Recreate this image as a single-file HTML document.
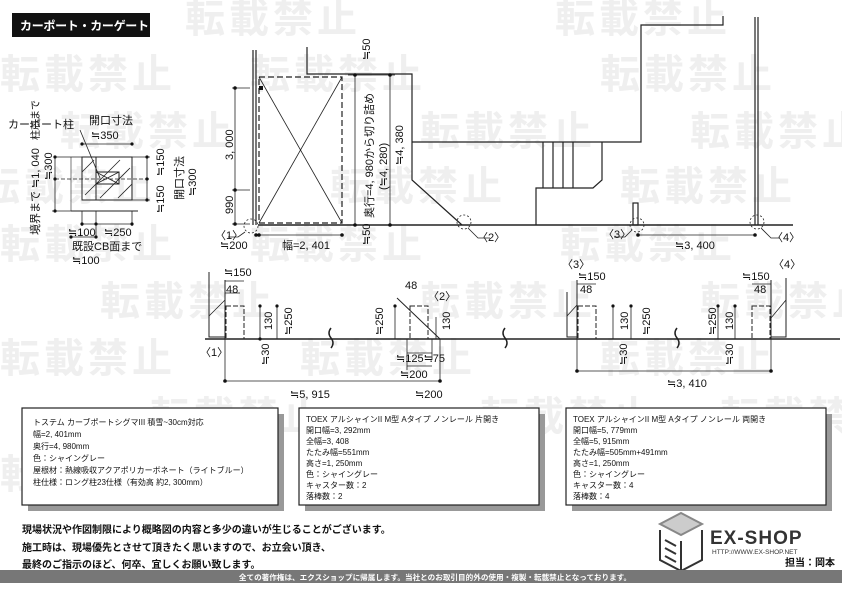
<!DOCTYPE html>
<html><head><meta charset="utf-8"><style>
html,body{margin:0;padding:0;background:#fff;}
svg{display:block;}
text{font-family:"Liberation Sans","Noto Sans CJK JP",sans-serif;}
.wm{fill:#efefef;font-size:40px;font-weight:bold;letter-spacing:4px;}
.d{font-size:11px;fill:#111;}
.b{font-size:8px;fill:#111;}
</style></head><body>
<svg width="842" height="595" viewBox="0 0 842 595" xmlns="http://www.w3.org/2000/svg">
<g class="wm">
<text x="185" y="32">転載禁止</text><text x="555" y="32">転載禁止</text>
<text x="0" y="88">転載禁止</text><text x="250" y="88">転載禁止</text><text x="600" y="88">転載禁止</text>
<text x="60" y="145">転載禁止</text><text x="420" y="145">転載禁止</text><text x="690" y="145">転載禁止</text>
<text x="-20" y="200">転載禁止</text><text x="330" y="200">転載禁止</text><text x="620" y="200">転載禁止</text>
<text x="0" y="258">転載禁止</text><text x="250" y="258">転載禁止</text><text x="560" y="258">転載禁止</text>
<text x="100" y="315">転載禁止</text><text x="420" y="315">転載禁止</text><text x="700" y="315">転載禁止</text>
<text x="0" y="372">転載禁止</text><text x="300" y="372">転載禁止</text><text x="600" y="372">転載禁止</text>
<text x="150" y="430">転載禁止</text><text x="480" y="430">転載禁止</text><text x="720" y="430">転載禁止</text>
<text x="0" y="488">転載禁止</text><text x="330" y="488">転載禁止</text><text x="620" y="488">転載禁止</text>
</g>
<rect x="12" y="13" width="138" height="24" fill="#111"/>
<text x="20" y="30" fill="#fff" font-size="12" font-weight="bold" letter-spacing="-0.3">カーポート・カーゲート</text>

<g stroke="#222" fill="none" stroke-width="1.2">
<line x1="253" y1="50" x2="253" y2="225"/><line x1="256" y1="50" x2="256" y2="225"/>
<rect x="259" y="77" width="83" height="146" stroke-dasharray="6,3"/>
<line x1="259" y1="77" x2="342" y2="223" stroke-width="0.8"/><line x1="342" y1="77" x2="259" y2="223" stroke-width="0.8"/>
<polyline points="307,47 307,74 412,74 412,180 462,225"/>
<polyline points="412,142 641,142 641,25 723,25 723,16"/>
<line x1="258" y1="225" x2="793" y2="225" stroke-width="1.4"/>
<line x1="543" y1="142" x2="543" y2="188"/><line x1="553" y1="142" x2="553" y2="188"/>
<line x1="563" y1="142" x2="563" y2="188"/><line x1="573" y1="142" x2="573" y2="188"/>
<polyline points="536,225 536,188 593,188 602,180 602,142"/>
<rect x="633" y="203" width="5" height="22"/>
<line x1="755" y1="17" x2="755" y2="225"/><line x1="758" y1="17" x2="758" y2="225"/>
<g stroke-dasharray="2,2" stroke-width="0.8"><circle cx="251" cy="226" r="7"/><circle cx="464" cy="222" r="7"/><circle cx="637" cy="225" r="7"/><circle cx="757" cy="222" r="7"/></g>
<polyline points="245,232 238,237 228,237" stroke-width="0.8"/>
<polyline points="468,228 478,238 490,238" stroke-width="0.8"/>
<polyline points="632,230 625,237 614,237" stroke-width="0.8"/>
<polyline points="761,228 771,238 780,238" stroke-width="0.8"/>
<g stroke-width="0.8">
<line x1="235" y1="88" x2="235" y2="224"/><line x1="232" y1="88" x2="250" y2="88"/><line x1="232" y1="190" x2="250" y2="190"/><line x1="232" y1="224" x2="250" y2="224"/>
<line x1="256" y1="235" x2="342" y2="235"/>
<line x1="355" y1="75" x2="355" y2="225"/><line x1="348" y1="75" x2="395" y2="75"/>
<line x1="390" y1="75" x2="390" y2="225"/>
<line x1="638" y1="235" x2="755" y2="235"/>
</g>
</g>
<g fill="#111">
<circle cx="235" cy="88" r="1.8"/><circle cx="235" cy="190" r="1.8"/><circle cx="235" cy="224" r="1.8"/>
<circle cx="256" cy="235" r="1.8"/><circle cx="259" cy="235" r="1.8"/><circle cx="342" cy="235" r="1.8"/>
<circle cx="355" cy="75" r="1.8"/><circle cx="355" cy="225" r="1.8"/><circle cx="390" cy="75" r="1.8"/><circle cx="390" cy="225" r="1.8"/>
<circle cx="638" cy="235" r="1.8"/><circle cx="755" cy="235" r="1.8"/>
<rect x="259" y="86" width="4" height="4"/>
</g>
<g class="d">
<text transform="translate(233,160) rotate(-90)">3, 000</text>
<text transform="translate(233,214) rotate(-90)">990</text>
<text x="215" y="239">〈1〉</text>
<text x="220" y="249">≒200</text><text x="282" y="249">幅=2, 401</text>
<text transform="translate(370,60) rotate(-90)">≒50</text>
<text transform="translate(370,245) rotate(-90)">≒50</text>
<text transform="translate(373,218) rotate(-90)">奥行=4, 980から切り詰め</text>
<text transform="translate(387,190) rotate(-90)">(≒4, 280)</text>
<text transform="translate(403,165) rotate(-90)">≒4, 380</text>
<text x="477" y="241">〈2〉</text><text x="603" y="238">〈3〉</text><text x="772" y="241">〈4〉</text>
<text x="675" y="249">≒3, 400</text>
</g>

<g stroke="#222" fill="none" stroke-width="1">
<rect x="82" y="157" width="50" height="43"/>
<rect x="96" y="172" width="23" height="12"/>
<line x1="96" y1="157" x2="96" y2="200"/>
<line x1="71" y1="211" x2="138" y2="211"/>
<line x1="71" y1="157" x2="71" y2="211" stroke-width="0.6"/>
<g stroke-width="0.8"><line x1="82" y1="172" x2="94" y2="160"/><line x1="85" y1="195" x2="120" y2="160"/><line x1="100" y1="198" x2="130" y2="168"/><line x1="118" y1="198" x2="132" y2="184"/>
<line x1="96" y1="172" x2="119" y2="184"/><line x1="96" y1="184" x2="119" y2="172"/>
<line x1="80" y1="130" x2="100" y2="178"/>
<line x1="82" y1="144" x2="132" y2="144"/>
<line x1="55" y1="157" x2="82" y2="157"/><line x1="55" y1="179" x2="150" y2="179" stroke-dasharray="4,2"/>
<line x1="52" y1="211" x2="71" y2="211"/>
<line x1="55" y1="157" x2="55" y2="211"/>
<line x1="132" y1="157" x2="150" y2="157"/><line x1="132" y1="200" x2="150" y2="200"/>
<line x1="147" y1="157" x2="147" y2="200"/>
<line x1="82" y1="224" x2="132" y2="224"/><line x1="71" y1="237" x2="96" y2="237"/>
<line x1="82" y1="211" x2="82" y2="226"/><line x1="96" y1="211" x2="96" y2="238"/><line x1="132" y1="211" x2="132" y2="226"/>
</g></g>
<g fill="#111"><circle cx="82" cy="144" r="1.6"/><circle cx="132" cy="144" r="1.6"/><circle cx="55" cy="157" r="1.6"/><circle cx="55" cy="179" r="1.6"/><circle cx="55" cy="211" r="1.6"/><circle cx="147" cy="157" r="1.6"/><circle cx="147" cy="179" r="1.6"/><circle cx="147" cy="200" r="1.6"/><circle cx="82" cy="224" r="1.6"/><circle cx="96" cy="224" r="1.6"/><circle cx="132" cy="224" r="1.6"/><circle cx="71" cy="237" r="1.6"/><circle cx="96" cy="237" r="1.6"/></g>
<g class="d">
<text x="8" y="128">カーポート柱</text><text x="89" y="124">開口寸法</text><text x="91" y="139">≒350</text>
<text transform="translate(39,235) rotate(-90)">境界まで ≒1, 040</text>
<text transform="translate(39,140) rotate(-90)" font-size="10">柱芯まで</text>
<text transform="translate(52,180) rotate(-90)">≒300</text>
<text transform="translate(164,176) rotate(-90)">≒150</text>
<text transform="translate(164,213) rotate(-90)">≒150</text>
<text transform="translate(183,200) rotate(-90)">開口寸法</text>
<text transform="translate(196,196) rotate(-90)">≒300</text>
<text x="68" y="236">≒100</text><text x="104" y="236">≒250</text>
<text x="72" y="250">既設CB面まで</text><text x="72" y="264">≒100</text>
</g>

<g stroke="#222" fill="none" stroke-width="1">
<line x1="205" y1="339" x2="840" y2="339" stroke-width="1.4"/>
<polyline points="209,272 209,337 225,337"/>
<line x1="225" y1="280" x2="225" y2="339"/>
<rect x="226" y="306" width="18" height="33" stroke-dasharray="5,2"/>
<rect x="410" y="306" width="18" height="33" stroke-dasharray="5,2"/>
<line x1="397" y1="298" x2="440" y2="339"/>
<polyline points="567,292 567,337 577,337"/><line x1="577" y1="280" x2="577" y2="339"/>
<rect x="578" y="306" width="18" height="33" stroke-dasharray="5,2"/>
<rect x="752" y="306" width="18" height="33" stroke-dasharray="5,2"/>
<polyline points="786,278 786,337 771,337"/><line x1="771" y1="280" x2="771" y2="339"/>
<g stroke-width="0.8">
<line x1="209" y1="316" x2="225" y2="300"/><line x1="567" y1="316" x2="577" y2="305"/><line x1="771" y1="318" x2="786" y2="300"/>
<line x1="225" y1="281" x2="244" y2="281"/><line x1="225" y1="293" x2="240" y2="293"/>
<line x1="260" y1="306" x2="260" y2="339"/><line x1="277" y1="305" x2="277" y2="339"/>
<line x1="225" y1="339" x2="225" y2="382"/><line x1="225" y1="381" x2="440" y2="381"/><line x1="440" y1="339" x2="440" y2="382"/>
<line x1="395" y1="306" x2="395" y2="339"/><line x1="436" y1="317" x2="436" y2="339"/>
<line x1="407" y1="339" x2="407" y2="370"/><line x1="432" y1="339" x2="432" y2="360"/>
<line x1="407" y1="353" x2="432" y2="353"/><line x1="407" y1="366" x2="432" y2="366"/>
<line x1="577" y1="339" x2="577" y2="372"/><line x1="771" y1="339" x2="771" y2="372"/>
<line x1="577" y1="371" x2="771" y2="371"/>
<line x1="613" y1="306" x2="613" y2="339"/><line x1="631" y1="305" x2="631" y2="339"/>
<line x1="735" y1="305" x2="735" y2="339"/><line x1="718" y1="306" x2="718" y2="339"/>
<line x1="752" y1="284" x2="771" y2="284"/><line x1="577" y1="284" x2="596" y2="284"/>
</g>
<path d="M331,328 q-4,5 0,10 q4,5 0,10" stroke-width="1.5"/>
<path d="M505,328 q-4,5 0,10 q4,5 0,10" stroke-width="1.5"/>
<path d="M677,328 q-4,5 0,10 q4,5 0,10" stroke-width="1.5"/>
</g>
<g fill="#111">
<circle cx="225" cy="381" r="1.8"/><circle cx="440" cy="381" r="1.8"/><circle cx="577" cy="371" r="1.8"/><circle cx="771" cy="371" r="1.8"/>
<circle cx="260" cy="306" r="1.6"/><circle cx="277" cy="306" r="1.6"/><circle cx="260" cy="339" r="1.6"/><circle cx="395" cy="306" r="1.6"/><circle cx="613" cy="306" r="1.6"/><circle cx="631" cy="306" r="1.6"/><circle cx="718" cy="306" r="1.6"/><circle cx="735" cy="306" r="1.6"/>
</g>
<g class="d">
<text x="224" y="276">≒150</text><text x="226" y="293">48</text>
<text transform="translate(272,330) rotate(-90)">130</text><text transform="translate(292,335) rotate(-90)">≒250</text>
<text transform="translate(269,365) rotate(-90)">≒30</text>
<text x="200" y="356">〈1〉</text>
<text x="405" y="289">48</text><text x="428" y="300">〈2〉</text>
<text transform="translate(383,335) rotate(-90)">≒250</text><text transform="translate(450,330) rotate(-90)">130</text>
<text x="396" y="362">≒125≒75</text><text x="400" y="378">≒200</text>
<text x="290" y="398">≒5, 915</text><text x="415" y="398">≒200</text>
<text x="562" y="268">〈3〉</text><text x="578" y="280">≒150</text><text x="580" y="293">48</text>
<text transform="translate(628,330) rotate(-90)">130</text><text transform="translate(650,335) rotate(-90)">≒250</text>
<text transform="translate(627,365) rotate(-90)">≒30</text>
<text x="773" y="268">〈4〉</text><text x="742" y="280">≒150</text><text x="754" y="293">48</text>
<text transform="translate(716,335) rotate(-90)">≒250</text><text transform="translate(733,330) rotate(-90)">130</text>
<text transform="translate(733,365) rotate(-90)">≒30</text>
<text x="667" y="387">≒3, 410</text>
</g>

<rect x="28" y="414" width="256" height="97" fill="#999"/>
<rect x="22" y="408" width="256" height="97" fill="#fff" stroke="#222" stroke-width="1.2"/>
<rect x="305" y="414" width="240" height="97" fill="#999"/>
<rect x="299" y="408" width="240" height="97" fill="#fff" stroke="#222" stroke-width="1.2"/>
<rect x="572" y="414" width="260" height="97" fill="#999"/>
<rect x="566" y="408" width="260" height="97" fill="#fff" stroke="#222" stroke-width="1.2"/>
<g class="b">
<text x="33" y="425">トステム カーブポートシグマIII 積雪~30cm対応</text>
<text x="33" y="437">幅=2, 401mm</text><text x="33" y="449">奥行=4, 980mm</text>
<text x="33" y="461">色：シャイングレー</text><text x="33" y="473">屋根材：熱線吸収アクアポリカーボネート（ライトブルー）</text>
<text x="33" y="485">柱仕様：ロング柱23仕様（有効高 約2, 300mm）</text>
<text x="306" y="422">TOEX アルシャインII M型 Aタイプ ノンレール 片開き</text>
<text x="306" y="433">開口幅=3, 292mm</text><text x="306" y="444">全幅=3, 408</text><text x="306" y="455">たたみ幅=551mm</text>
<text x="306" y="466">高さ=1, 250mm</text><text x="306" y="477">色：シャイングレー</text><text x="306" y="488">キャスター数：2</text><text x="306" y="499">落棒数：2</text>
<text x="573" y="422">TOEX アルシャインII M型 Aタイプ ノンレール 両開き</text>
<text x="573" y="433">開口幅=5, 779mm</text><text x="573" y="444">全幅=5, 915mm</text><text x="573" y="455">たたみ幅=505mm+491mm</text>
<text x="573" y="466">高さ=1, 250mm</text><text x="573" y="477">色：シャイングレー</text><text x="573" y="488">キャスター数：4</text><text x="573" y="499">落棒数：4</text>
</g>

<g font-size="10" font-weight="bold" fill="#111">
<text x="22" y="533">現場状況や作図制限により概略図の内容と多少の違いが生じることがございます。</text>
<text x="22" y="551">施工時は、現場優先とさせて頂きたく思いますので、お立会い頂き、</text>
<text x="22" y="568">最終のご指示のほど、何卒、宜しくお願い致します。</text>
</g>
<g stroke="#333" stroke-width="2" fill="none">
<polygon points="681,513 702,524 681,535 660,524" fill="#ccc" stroke="#888"/>
<polyline points="660,530 660,560 681,571 702,560 702,530"/>
<line x1="681" y1="541" x2="681" y2="571"/>
<line x1="665" y1="540" x2="676" y2="546"/><line x1="665" y1="548" x2="676" y2="554"/><line x1="665" y1="556" x2="676" y2="562"/>
</g>
<text x="710" y="544" font-size="19" font-weight="bold" fill="#333" letter-spacing="1">EX-SHOP</text>
<text x="712" y="554" font-size="6.5" fill="#333">HTTP://WWW.EX-SHOP.NET</text>
<text x="785" y="566" font-size="10" font-weight="bold" fill="#111">担当：岡本</text>

<rect x="0" y="570" width="842" height="13" fill="#777"/>
<text x="435" y="580" font-size="7.6" fill="#fff" text-anchor="middle" font-weight="bold">全ての著作権は、エクスショップに帰属します。当社とのお取引目的外の使用・複製・転載禁止となっております。</text>
</svg>
</body></html>
